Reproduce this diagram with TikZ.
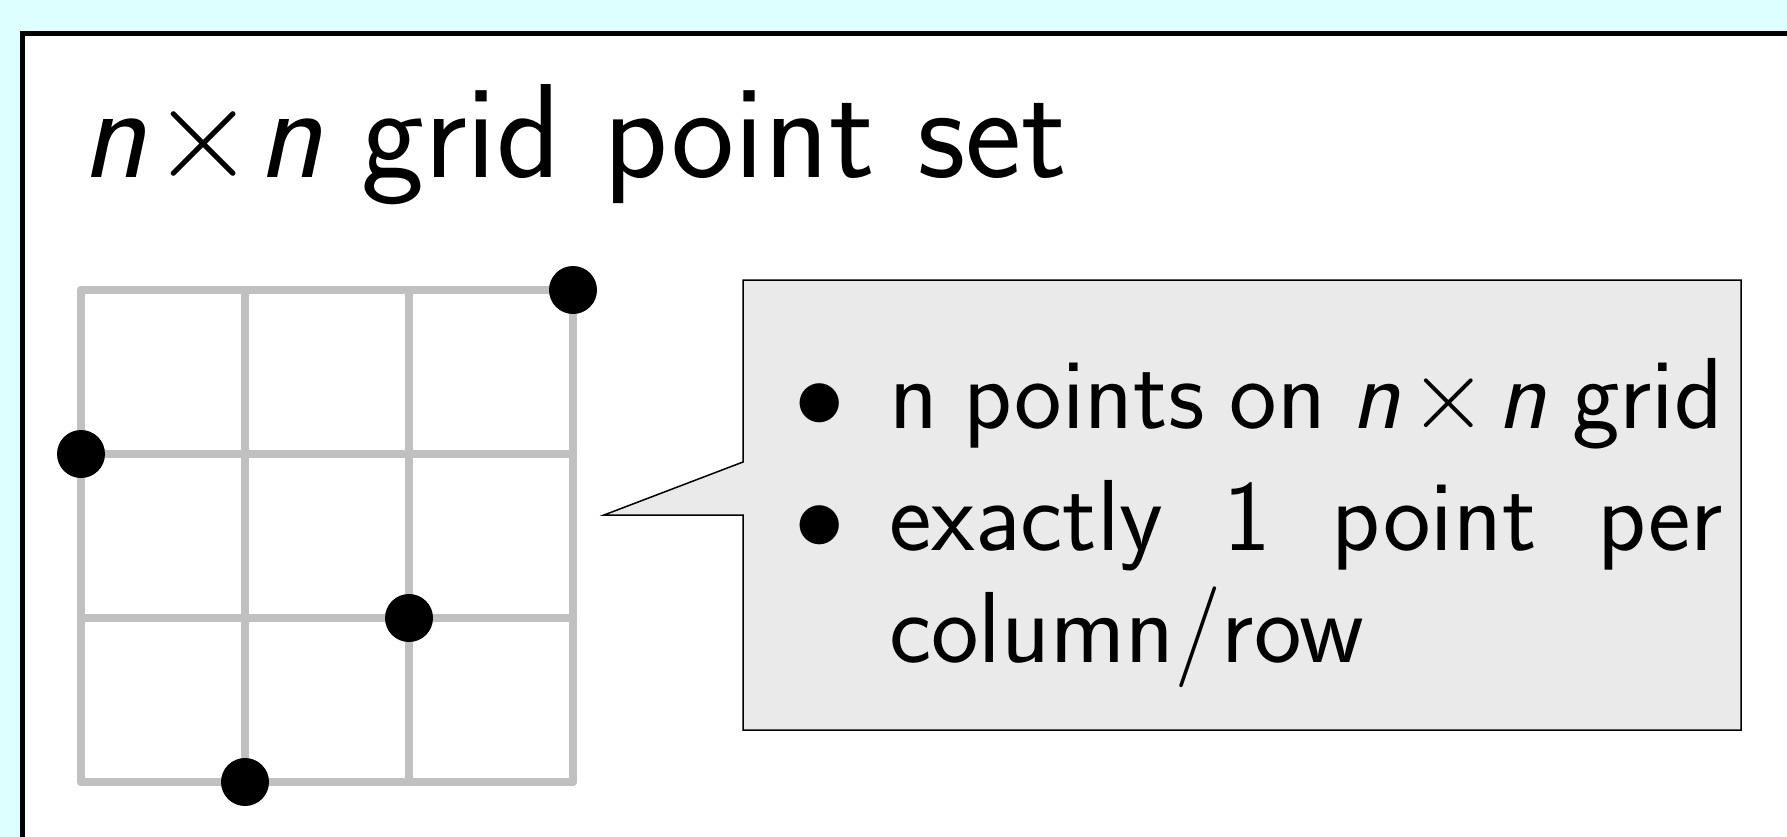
\RequirePackage{fix-cm}
\documentclass[tikz,border=0pt]{standalone}
\usepackage{fontspec}
\definecolor{bgcyan}{RGB}{221,255,255}
\definecolor{gridgray}{RGB}{192,192,192}
\definecolor{calloutgray}{RGB}{234,234,234}
\begin{document}
\begin{tikzpicture}[x=1pt,y=-1pt,
  gridline/.style={draw=gridgray,line width=8pt,line cap=round,line join=round},
  dot/.style={circle,fill=black,inner sep=0pt,minimum size=48pt},
  body/.style={font=\sffamily\fontsize{101}{112}\selectfont,inner sep=0pt},
  titlefont/.style={font=\sffamily\fontsize{134}{160}\selectfont,inner sep=0pt}]
\useasboundingbox (0,0) rectangle (1787,837);
\fill[bgcyan] (0,0) rectangle (1787,837);
\begin{scope}
  \clip (0,0) rectangle (1787,837);
  \draw[line width=5pt,fill=white] (22.5,34) rectangle (1900,950);
\end{scope}
% title
\node[titlefont,anchor=base west] (title) at (81,178)
  {{\itshape n}\kern5pt$\times$\kern2pt{\itshape n}\hspace{-3pt} grid point set};
% grid
\foreach \i in {0,...,3}{
  \draw[gridline] ({81+164*\i},290) -- ({81+164*\i},782);
  \draw[gridline] (81,{290+164*\i}) -- (573,{290+164*\i});
}
\node[dot] (p1) at (573,290) {};
\node[dot] (p2) at (81,454) {};
\node[dot] (p3) at (409,618) {};
\node[dot] (p4) at (245,782) {};
% callout
\draw[fill=calloutgray,line width=1.5pt,line join=miter]
  (743,280) -- (1741,280) -- (1741,730) -- (743,730) -- (743,515)
  -- (604,515) -- (743,462) -- cycle;
\node[body,anchor=base] (b1) at (820,428) {$\bullet$};
\node[body,anchor=base west] (t1) at (889,428)
  {\parbox[t]{834pt}{\hyphenpenalty=10000 n points on $\mbox{\itshape n}\times\mbox{\itshape n}$ grid}};
\node[body,anchor=base] (b2) at (820,550) {$\bullet$};
\node[body,anchor=base west] (t2) at (889,550)
  {\parbox[t]{834pt}{\hyphenpenalty=10000 exactly 1 point per column/row}};
\end{tikzpicture}
\end{document}
